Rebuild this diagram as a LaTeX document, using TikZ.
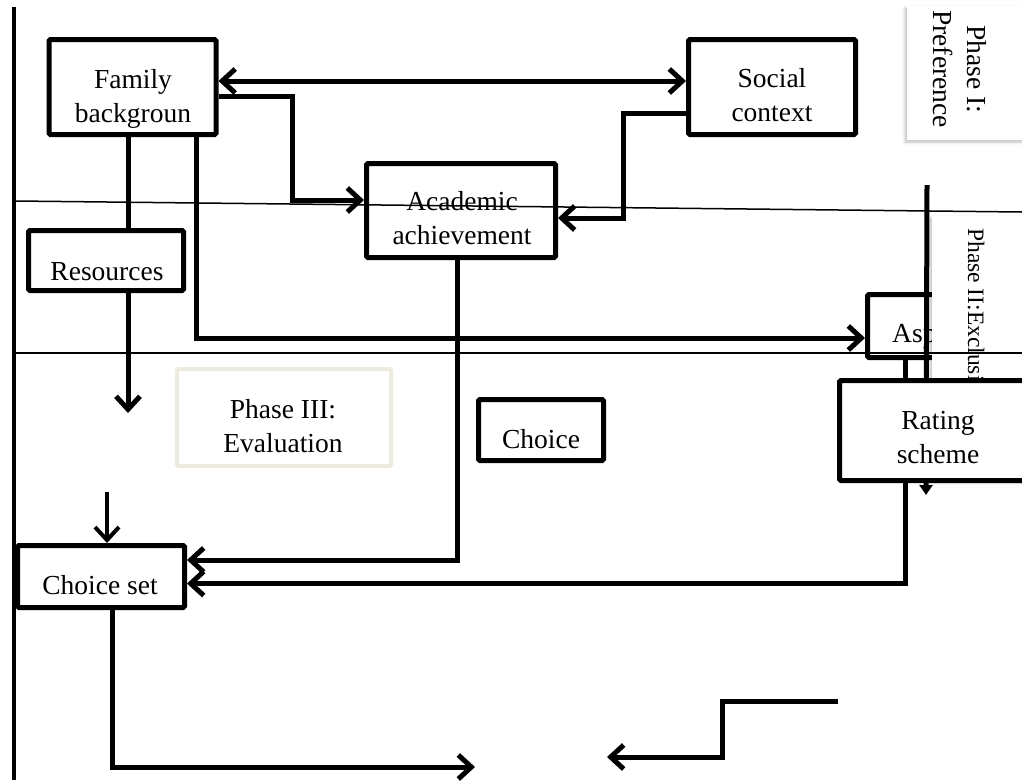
\documentclass[tikz,border=0pt]{standalone}
\usepackage{fontspec}
\setmainfont{Liberation Serif}
\usetikzlibrary{arrows.meta,shadows.blur}
\newcommand\bodysize{\fontsize{27.5}{34}\selectfont}
\newcommand\sidesize{\fontsize{23.5}{29}\selectfont}
\newcommand\stackedtext[1]{\begin{tabular}{@{}c@{}}#1\end{tabular}}
\begin{document}
\begin{tikzpicture}[x=1pt,y=-1pt,
  box/.style={draw, line width=5pt, fill=white, inner sep=0pt, rounded corners=1.5pt},
  softbox/.style={draw={rgb,255:red,237;green,234;blue,222}, line width=4pt, fill=white, inner sep=0pt, rounded corners=1.5pt},
  lbl/.style={inner sep=0pt, font=\bodysize},
  link/.style={line width=5pt},
  barb/.tip={Straight Barb[length=13pt,width=24pt]},
  arr/.style={link, -barb},
  thinline/.style={line width=1.5pt},
  panel/.style={fill=white, inner sep=0pt,
    blur shadow={shadow xshift=-2pt, shadow yshift=-2pt, shadow opacity=25, shadow blur radius=3pt}}]
\useasboundingbox (0,0) rectangle (1022,780);
\clip (0,0) rectangle (1022,780);

% phase I side panel
\node[panel, minimum width=123pt, minimum height=134pt] (ph1) at (968.5,73) {};
\node[lbl, rotate=-90] (ph1txt) at (957,69) {\stackedtext{Phase I:\\Preference}};

% main axis on the left
\coordinate (axTop) at (14,7);
\coordinate (axBot) at (14,780);
\draw[line width=4pt] (axTop) -- (axBot);

% boxes
\node[box, minimum width=167pt, minimum height=95pt] (fam) at (132.5,87) {};
\node[lbl] (famtxt) at (133,99) {\stackedtext{Family\\backgroun}};
\node[box, minimum width=167pt, minimum height=95pt] (soc) at (772,87) {};
\node[lbl] (soctxt) at (772,98) {\stackedtext{Social\\context}};
\node[box, minimum width=189pt, minimum height=94pt] (acad) at (461,210.5) {};
\node[lbl] (acadtxt) at (462,221) {\stackedtext{Academic\\achievement}};
\node[box, minimum width=155pt, minimum height=60pt] (res) at (106,260.5) {};
\node[lbl] (restxt) at (107,273.2) {\stackedtext{Resources}};
\node[softbox, minimum width=214pt, minimum height=97pt] (ph3) at (284,417.5) {};
\node[lbl] (ph3txt) at (283,429) {\stackedtext{Phase III:\\Evaluation}};
\node[box, minimum width=125pt, minimum height=61pt] (choice) at (541,430) {};
\node[lbl] (choicetxt) at (541,441.2) {\stackedtext{Choice}};
\node[box, minimum width=167pt, minimum height=62pt] (cset) at (101,576.5) {};
\node[lbl] (csettxt) at (100,587.2) {\stackedtext{Choice set}};
\node[box, minimum width=130pt, minimum height=63pt] (asp) at (932.5,326) {};
\node[lbl, anchor=base west] (asptxt) at (892,342) {Asp};

% phase II side panel
\node[panel, minimum width=98pt, minimum height=264pt] (ph2) at (981,348) {};
\node[inner sep=0pt, font=\sidesize, rotate=-90, anchor=west] (ph2txt) at (976,228) {Phase II:Exclusion};

% connectors
\draw[link, barb-barb] ([yshift=6pt]fam.east) -- ([yshift=6pt]soc.west);
\draw[arr] ([yshift=-9pt]fam.east) -| ([xshift=-72pt,yshift=10.5pt]acad.west) -- ([yshift=10.5pt]acad.west);
\draw[arr] ([yshift=-26pt]soc.west) -| ([xshift=65pt,yshift=-7.5pt]acad.east) -- ([yshift=-7.5pt]acad.east);
\draw[link] ([xshift=-4.5pt]fam.south) -- ([xshift=22pt]res.north);
\coordinate (resEnd) at (128,413);
\draw[arr] ([xshift=22pt]res.south) -- (resEnd);
\draw[arr] ([xshift=63.5pt]fam.south) |- ([yshift=-12pt]asp.west);
\draw[arr] ([xshift=-4pt]acad.south) |- ([yshift=16.5pt]cset.east);
\draw[arr] ([xshift=-27.5pt]asp.south) |- ([yshift=-7pt]cset.east);
\coordinate (csIn) at (107,492);
\draw[line width=4pt, -barb] (csIn) -- ([xshift=6pt]cset.north);
\coordinate (outEnd) at (475,767);
\draw[arr] ([xshift=11pt]cset.south) |- (outEnd);
\coordinate (brStart) at (838,701);
\coordinate (brEnd) at (607,757);
\draw[arr] (brStart) -- ++(-116,0) |- (brEnd);
\coordinate (vTop) at (927,185);
\coordinate (vBot) at (926,495);
\draw[link, -{Triangle[length=10pt,width=13pt]}] (vTop) -- (vBot);

% rating box on top of the lines it covers
\node[box, minimum width=197pt, minimum height=100pt] (rate) at (938,430.5) {};
\node[lbl] (ratetxt) at (938,440) {\stackedtext{Rating\\scheme}};

% phase dividers
\coordinate (d1a) at (16,201);
\coordinate (d1b) at (1022,212);
\coordinate (d2a) at (16,353);
\coordinate (d2b) at (1022,353);
\draw[thinline] (d1a) -- (d1b);
\draw[thinline] (d2a) -- (d2b);
\end{tikzpicture}
\end{document}
